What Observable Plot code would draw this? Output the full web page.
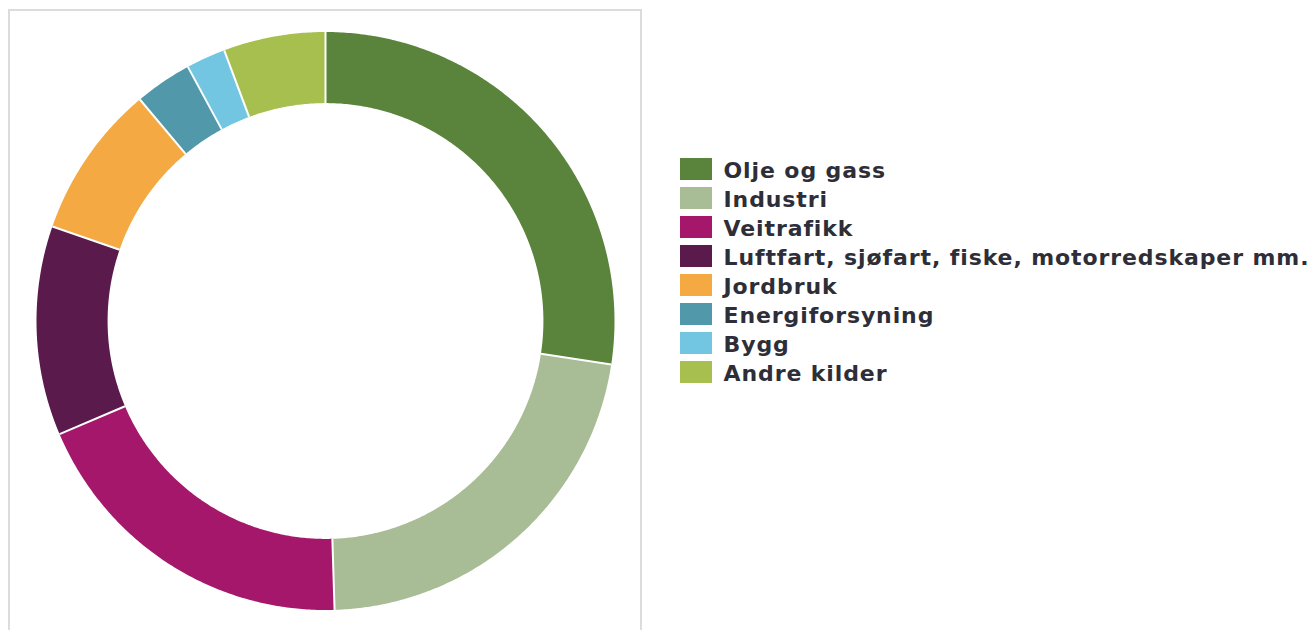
<!DOCTYPE html>
<html>
<head>
<meta charset="utf-8">
<script src="https://cdn.jsdelivr.net/npm/d3@7"></script>
<script src="https://cdn.jsdelivr.net/npm/@observablehq/plot@0.6"></script>
<style>
  html, body { margin: 0; padding: 0; background: #fff; }
  #wrap { position: relative; width: 1316px; height: 630px; overflow: hidden; }
  #wrap svg { position: absolute; left: 0; top: 0; }
  #wrap svg.lg text { letter-spacing: 0.9px; }
  #frame { position: absolute; left: 8px; top: 9px; width: 634px; height: 700px;
           border: 2px solid #dcdcdc; box-sizing: border-box; }
</style>
</head>
<body>
<div id="wrap"><div id="frame"></div></div>
<script>
const categories = ["Olje og gass", "Industri", "Veitrafikk",
  "Luftfart, sjøfart, fiske, motorredskaper mm.", "Jordbruk",
  "Energiforsyning", "Bygg", "Andre kilder"];
const values = [27.4, 22.1, 19.1, 11.7, 8.6, 3.2, 2.2, 5.7];
const colors = ["#5a843c", "#a8bc96", "#a4176a", "#5a1a4c", "#f4a942",
  "#5298ab", "#72c6e2", "#a6bf4e"];

const innerR = 0.754, outerR = 1;
const total = d3.sum(values);

// build arc polygons from the values
let acc = 0;
const slices = categories.map((c, i) => {
  const a0 = acc / total * 2 * Math.PI;
  acc += values[i];
  const a1 = acc / total * 2 * Math.PI;
  const n = Math.max(2, Math.ceil((a1 - a0) / (Math.PI / 360)));
  const pts = [];
  for (let k = 0; k <= n; k++) {
    const a = a0 + (a1 - a0) * k / n;
    pts.push({x: outerR * Math.sin(a), y: outerR * Math.cos(a)});
  }
  for (let k = n; k >= 0; k--) {
    const a = a0 + (a1 - a0) * k / n;
    pts.push({x: innerR * Math.sin(a), y: innerR * Math.cos(a)});
  }
  return {cat: c, color: colors[i], pts, a0, a1};
});
const bounds = slices.map(s => ({
  x1: innerR * Math.sin(s.a0), y1: innerR * Math.cos(s.a0),
  x2: outerR * Math.sin(s.a0), y2: outerR * Math.cos(s.a0)
}));

const donut = Plot.plot({
  width: 1316, height: 630,
  x: {domain: [-1, 1], range: [36, 614], axis: null},
  y: {domain: [-1, 1], range: [609.5, 31.5], axis: null},
  style: {background: "transparent", overflow: "visible"},
  marks: [
    ...slices.map(s => Plot.line(s.pts, {x: "x", y: "y", fill: s.color, stroke: "none", curve: "linear"})),
    Plot.link(bounds, {x1: "x1", y1: "y1", x2: "x2", y2: "y2", stroke: "#fff", strokeWidth: 2})
  ]
});

const legendData = categories.map((c, i) => ({cat: c, color: colors[i]}));
const legend = Plot.plot({
  className: "lg",
  width: 1316, height: 630,
  x: {domain: [0, 1], range: [680, 712], axis: null},
  y: {domain: categories, range: [151, 391], paddingInner: 0.233, paddingOuter: 0.117, axis: null},
  color: {domain: categories, range: colors},
  style: {background: "transparent", overflow: "visible"},
  marks: [
    Plot.barX(legendData, {x1: 0, x2: 1, y: "cat", fill: "cat"}),
    Plot.text(legendData, {x: 1, y: "cat", text: "cat", dx: 11, dy: 1, textAnchor: "start",
      fontFamily: "DejaVu Sans", fontWeight: "bold", fontSize: 22, fill: "#2e2e38"})
  ]
});
legend.classList.add("lg");

const wrap = document.getElementById("wrap");
wrap.appendChild(donut);
wrap.appendChild(legend);
</script>
</body>
</html>
